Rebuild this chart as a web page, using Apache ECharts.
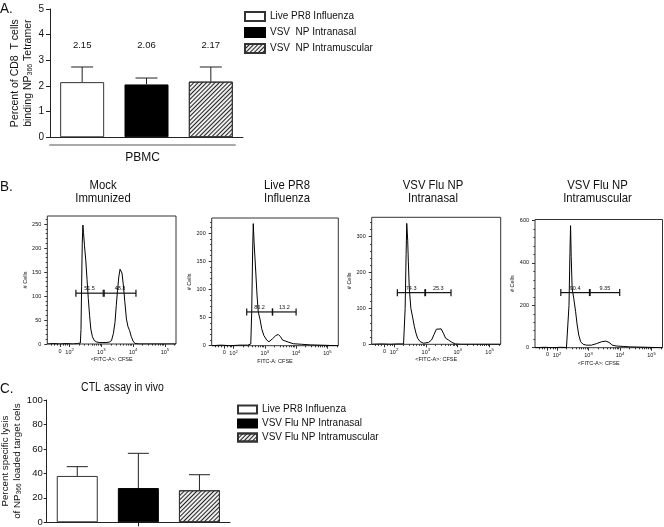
<!DOCTYPE html>
<html><head><meta charset="utf-8">
<script src="https://cdn.jsdelivr.net/npm/echarts@6/dist/echarts.min.js"></script>
<style>html,body{margin:0;padding:0;background:#fff}#c{width:664px;height:527px}</style>
</head><body><div id="c"></div>
<script>
// ---------- Panel A data ----------
const catsA = ['Live PR8 Influenza', 'VSV  NP Intranasal', 'VSV  NP Intramuscular'];
const meanA = [2.15, 2.06, 2.17];
const upperA = [2.74, 2.31, 2.74];
const labelsA = ['2.15', '2.06', '2.17'];
const groupA = ['PBMC'];

// ---------- Panel B data (x in display decades: 1.7 = "0", 2 = 10^2 ...) ----------
const histTitles = ['Mock\nImmunized', 'Live PR8\nInfluenza', 'VSV Flu NP\nIntranasal', 'VSV Flu NP\nIntramuscular'];
const histXNames = ['<FITC-A>: CFSE', 'FITC-A: CFSE', '<FITC-A>: CFSE', '<FITC-A>: CFSE'];
const histXTicks = [1.7, 2, 3, 4, 5];
const histXTickLabels = ['0', '10{s|2}', '10{s|3}', '10{s|4}', '10{s|5}'];
const histYMax = [267, 227, 354, 605];
const histYInterval = [50, 50, 100, 200];
const histYTicks = [[0, 50, 100, 150, 200, 250], [0, 50, 100, 150, 200], [0, 100, 200, 300], [0, 200, 400, 600]];

const histMock = [[1.30,0],[1.50,1],[1.70,0],[1.90,1],[2.10,0],[2.25,1],[2.34,2],[2.36,30],[2.38,120],[2.40,210],[2.42,248],[2.44,232],[2.47,205],[2.51,175],[2.55,135],[2.59,95],[2.63,60],[2.67,31],[2.72,15],[2.78,7],[2.86,4],[2.95,3],[3.05,3],[3.15,3],[3.25,4],[3.32,7],[3.38,22],[3.43,45],[3.47,80],[3.51,112],[3.55,140],[3.59,156],[3.62,158],[3.65,148],[3.69,125],[3.74,88],[3.79,52],[3.84,36],[3.89,28],[3.94,16],[4.00,6],[4.06,1],[4.20,0],[5.35,0]];
const histPR8 = [[1.30,0],[1.60,1],[1.90,0],[2.20,1],[2.45,1],[2.55,3],[2.58,60],[2.61,170],[2.63,217],[2.66,179],[2.71,131],[2.75,90],[2.79,60],[2.85,46],[2.90,30],[2.97,18],[3.06,10],[3.13,7],[3.24,12],[3.35,18],[3.43,20],[3.50,16],[3.57,10],[3.67,8],[3.77,6],[3.91,3.5],[4.18,2.5],[4.45,1.5],[4.50,0],[5.35,0]];
const histIN = [[1.30,0],[1.60,1],[1.90,0],[2.10,1],[2.30,1],[2.33,5],[2.35,100],[2.38,250],[2.40,337],[2.43,290],[2.45,230],[2.48,156],[2.53,100],[2.59,73],[2.64,49],[2.69,31],[2.74,17],[2.82,7.6],[2.92,3],[3.08,5],[3.18,12],[3.26,28],[3.33,42],[3.39,46],[3.48,43],[3.55,31],[3.62,17],[3.71,12],[3.81,6],[3.92,1],[4.10,0],[5.35,0]];
const histIM = [[1.30,0],[1.60,2],[1.90,0],[2.10,2],[2.30,1],[2.36,5],[2.38,200],[2.41,450],[2.43,576],[2.45,430],[2.48,280],[2.53,233],[2.59,170],[2.64,107],[2.69,60],[2.75,28],[2.83,16],[2.94,12],[3.09,12],[3.25,19],[3.41,28],[3.55,31],[3.65,25],[3.76,12],[3.88,8],[4.10,6],[4.31,4],[4.36,0],[5.35,0]];

const gateMock = [[2.20, 3.06, 106], [3.09, 4.09, 106]];
const gateMockLabels = ['51.5', '48.3'];
const gatePR8 = [[2.42, 3.24, 60], [3.25, 4.00, 60]];
const gatePR8Labels = ['86.2', '13.2'];
const gateIN = [[2.105, 2.97, 144], [2.99, 3.79, 144]];
const gateINLabels = ['74.3', '25.3'];
const gateIM = [[2.12, 3.03, 260], [3.05, 3.99, 260]];
const gateIMLabels = ['90.4', '9.35'];

// ---------- Panel C data ----------
const catsC = ['Live PR8 Influenza', 'VSV Flu NP Intranasal', 'VSV Flu NP Intramuscular'];
const meanC = [37.9, 28.0, 26.2];
const upperC = [45.5, 56.4, 38.9];

// ---------- styling ----------
const F = '"Liberation Sans",Arial,Helvetica,sans-serif';
const INK = '#111';
const hatch = {symbol: 'rect', symbolSize: 1, color: '#222', dashArrayX: [1, 0], dashArrayY: [1, 1.2], rotation: -Math.PI / 4};
const barStyles = [
  {color: '#fff', borderColor: '#333', borderWidth: 1},
  {color: '#000', borderColor: '#000', borderWidth: 1},
  {color: '#eee', borderColor: '#333', borderWidth: 1, decal: hatch}
];

const histData = [histMock, histPR8, histIN, histIM];
const gates = [gateMock, gatePR8, gateIN, gateIM];
const gateLabels = [gateMockLabels, gatePR8Labels, gateINLabels, gateIMLabels];
const histGrids = [
  {left: 47.3, top: 216, width: 128.7, height: 128},
  {left: 211.7, top: 218, width: 126.6, height: 127.7},
  {left: 371.7, top: 217.3, width: 129, height: 127},
  {left: 535, top: 219.5, width: 127.5, height: 128.2}
];
const titleX = [103, 287, 433, 597.5];

const minorX = [1.42, 1.52, 1.60, 1.80, 1.88, 1.94];
[2, 3, 4].forEach(n => { for (let k = 2; k <= 9; k++) minorX.push(n + Math.log10(k)); });
minorX.push(5 + Math.log10(2));

const gridBase = {containLabel: false, outerBoundsMode: 'none'};
const grids = [
  Object.assign({left: 50, top: 9, width: 193, height: 128.3}, gridBase),
  Object.assign({left: 50, top: 144, width: 185, height: 1}, gridBase)
];
histGrids.forEach(g => grids.push(Object.assign({show: true, borderColor: '#333', borderWidth: 1, backgroundColor: 'transparent'}, g, gridBase)));
grids.push(Object.assign({left: 46.7, top: 400, width: 183.3, height: 122.3}, gridBase));

const xAxes = [
  {type: 'category', gridIndex: 0, data: catsA, axisLine: {show: true, lineStyle: {color: '#222', width: 1}}, axisTick: {show: false}, axisLabel: {show: false}, splitLine: {show: false}},
  {type: 'category', gridIndex: 1, data: groupA, position: 'bottom', axisLine: {show: true, lineStyle: {color: '#aaa', width: 2}}, axisTick: {show: false}, axisLabel: {margin: 7, fontSize: 12, fontFamily: F, color: INK}, splitLine: {show: false}}
];
const yAxes = [
  {type: 'value', gridIndex: 0, min: 0, max: 5, interval: 1, axisLine: {show: true, lineStyle: {color: '#222'}}, axisTick: {show: true, length: 4, lineStyle: {color: '#222'}}, splitLine: {show: false},
   axisLabel: {fontSize: 10, fontFamily: F, color: INK, margin: 6},
   name: 'Percent of CD8  T cells\nbinding NP{sub|366} Tetramer', nameLocation: 'middle', nameGap: 13,
   nameTextStyle: {fontSize: 10.5, fontFamily: F, color: INK, lineHeight: 13, rich: {sub: {fontSize: 7, fontFamily: F, color: INK, lineHeight: 13, padding: [4, 0, 0, 0]}}}},
  {type: 'value', gridIndex: 1, show: false, min: 0, max: 1}
];
histGrids.forEach((g, i) => {
  xAxes.push({type: 'value', gridIndex: 2 + i, min: 1.3, max: 5.35, position: 'bottom',
    axisLine: {show: false}, splitLine: {show: false},
    axisTick: {show: true, customValues: histXTicks, length: 3, lineStyle: {color: '#333'}},
    axisLabel: {customValues: histXTicks, margin: 4, fontSize: 5.5, fontFamily: F, color: INK,
      formatter: v => histXTickLabels[histXTicks.findIndex(t => Math.abs(t - v) < 1e-6)] || '',
      rich: {s: {fontSize: 4.2, fontFamily: F, color: INK, padding: [0, 0, 4, 0]}}},
    name: histXNames[i], nameLocation: 'middle', nameGap: 12.5, nameTextStyle: {fontSize: 5.5, fontFamily: F, color: INK}});
  xAxes.push({type: 'value', gridIndex: 2 + i, min: 1.3, max: 5.35, position: 'bottom',
    axisLine: {show: false}, splitLine: {show: false}, axisLabel: {show: false},
    axisTick: {show: true, customValues: minorX, length: 1.6, lineStyle: {color: '#333'}}});
  yAxes.push({type: 'value', gridIndex: 2 + i, min: 0, max: histYMax[i], interval: histYInterval[i],
    axisLine: {show: false}, splitLine: {show: false},
    axisTick: {show: true, customValues: histYTicks[i], length: 3, lineStyle: {color: '#333'}},
    minorTick: {show: true, splitNumber: 5, length: 1.6, lineStyle: {color: '#333'}},
    axisLabel: {customValues: histYTicks[i], margin: 6, fontSize: 5.5, fontFamily: F, color: INK},
    name: '# Cells', nameLocation: 'middle', nameGap: 13, nameTextStyle: {fontSize: 5.5, fontFamily: F, color: INK}});
});
xAxes.push({type: 'category', gridIndex: 6, data: catsC, axisLine: {show: true, lineStyle: {color: '#222'}},
  axisTick: {show: true, alignWithLabel: true, interval: (i) => i === 1, length: 4, lineStyle: {color: '#222'}},
  axisLabel: {show: false}, splitLine: {show: false}});
yAxes.push({type: 'value', gridIndex: 6, min: 0, max: 100, interval: 20,
  axisLine: {show: true, lineStyle: {color: '#222'}}, axisTick: {show: true, length: 3, lineStyle: {color: '#222'}}, splitLine: {show: false},
  axisLabel: {fontSize: 9.5, fontFamily: F, color: INK, margin: 4},
  name: 'Percent specific lysis\nof NP{sub|366} loaded target cels', nameLocation: 'middle', nameGap: 18,
  nameTextStyle: {fontSize: 9.8, fontFamily: F, color: INK, lineHeight: 11.5, rich: {sub: {fontSize: 6.5, fontFamily: F, color: INK, lineHeight: 11.5, padding: [4, 0, 0, 0]}}}});

const series = [];
function barSeries(names, means, xi, yi, bw) {
  names.forEach((n, i) => {
    series.push({type: 'bar', name: n, xAxisIndex: xi, yAxisIndex: yi, barWidth: bw, barGap: '-100%',
      data: means.map((m, j) => j === i ? m : '-'), itemStyle: barStyles[i], silent: true});
  });
}
function errSeries(means, uppers, xi, yi, capW, labels) {
  series.push({type: 'custom', xAxisIndex: xi, yAxisIndex: yi, z: 5, silent: true,
    data: means.map((m, i) => [i, m, uppers[i]]),
    renderItem: (params, api) => {
      const p0 = api.coord([api.value(0), api.value(1)]);
      const p1 = api.coord([api.value(0), api.value(2)]);
      const st = {stroke: '#222', lineWidth: 1};
      const ch = [
        {type: 'line', shape: {x1: p0[0], y1: p0[1], x2: p1[0], y2: p1[1]}, style: st},
        {type: 'line', shape: {x1: p1[0] - capW / 2, y1: p1[1], x2: p1[0] + capW / 2, y2: p1[1]}, style: st}
      ];
      if (labels) {
        const top = api.coord([api.value(0), 5])[1];
        ch.push({type: 'text', x: p1[0], y: top + 36, style: {text: labels[params.dataIndex], fontSize: 9.5, fontFamily: F, fill: INK, align: 'center', verticalAlign: 'middle'}});
      }
      return {type: 'group', children: ch};
    }});
}
barSeries(catsA, meanA, 0, 0, 44);
errSeries(meanA, upperA, 0, 0, 22, labelsA);

histData.forEach((d, i) => {
  series.push({type: 'line', xAxisIndex: 2 + 2 * i, yAxisIndex: 2 + i, data: d, showSymbol: false, symbol: 'none',
    lineStyle: {color: '#000', width: 1}, silent: true, z: 3});
  const labs = gateLabels[i];
  series.push({type: 'custom', xAxisIndex: 2 + 2 * i, yAxisIndex: 2 + i, data: gates[i], z: 6, silent: true,
    renderItem: (params, api) => {
      const y = api.value(2);
      const a = api.coord([api.value(0), y]);
      const b = api.coord([api.value(1), y]);
      const st = {stroke: '#111', lineWidth: 1.2};
      return {type: 'group', children: [
        {type: 'line', shape: {x1: a[0], y1: a[1], x2: b[0], y2: b[1]}, style: st},
        {type: 'line', shape: {x1: a[0], y1: a[1] - 3.5, x2: a[0], y2: a[1] + 3.5}, style: st},
        {type: 'line', shape: {x1: b[0], y1: b[1] - 3.5, x2: b[0], y2: b[1] + 3.5}, style: st},
        {type: 'text', x: (a[0] + b[0]) / 2, y: a[1] - 1.5, style: {text: labs[params.dataIndex], fontSize: 5.5, fontFamily: F, fill: INK, align: 'center', verticalAlign: 'bottom'}}
      ]};
    }});
});

barSeries(catsC, meanC, 10, 6, 41);
errSeries(meanC, upperC, 10, 6, 21, null);

const graphic = [
  {type: 'text', x: 0, y: 1, scaleX: 0.9, style: {text: 'A.', fontSize: 15, fontFamily: F, fill: INK, align: 'left', verticalAlign: 'top'}},
  {type: 'text', x: 0, y: 179, scaleX: 0.9, style: {text: 'B.', fontSize: 15, fontFamily: F, fill: INK, align: 'left', verticalAlign: 'top'}},
  {type: 'text', x: 0, y: 381, scaleX: 0.9, style: {text: 'C.', fontSize: 15, fontFamily: F, fill: INK, align: 'left', verticalAlign: 'top'}},
  {type: 'text', x: 122.5, y: 388, scaleX: 0.84, style: {text: 'CTL assay in vivo', fontSize: 12.5, fontFamily: F, fill: INK, align: 'center', verticalAlign: 'middle'}}
];
histTitles.forEach((t, i) => graphic.push({type: 'text', x: titleX[i], y: 178.5, scaleX: 0.84,
  style: {text: t, fontSize: 13.5, lineHeight: 13, fontFamily: F, fill: INK, align: 'center', verticalAlign: 'top'}}));

const option = {
  animation: false,
  backgroundColor: '#fff',
  grid: grids,
  xAxis: xAxes,
  yAxis: yAxes,
  legend: [
    {data: catsA, orient: 'vertical', left: 244, top: 10.5, padding: 0, itemWidth: 20, itemHeight: 9, itemGap: 4, icon: 'rect', selectedMode: false,
     textStyle: {fontSize: 10, fontFamily: F, color: INK, lineHeight: 12}},
    {data: catsC, orient: 'vertical', left: 237, top: 404, padding: 0, itemWidth: 19, itemHeight: 8, itemGap: 3, icon: 'rect', selectedMode: false,
     textStyle: {fontSize: 10, fontFamily: F, color: INK, lineHeight: 11}}
  ],
  graphic: graphic,
  series: series
};
const chart = echarts.init(document.getElementById('c'), null, {renderer: 'canvas'});
chart.setOption(option);
</script></body></html>
